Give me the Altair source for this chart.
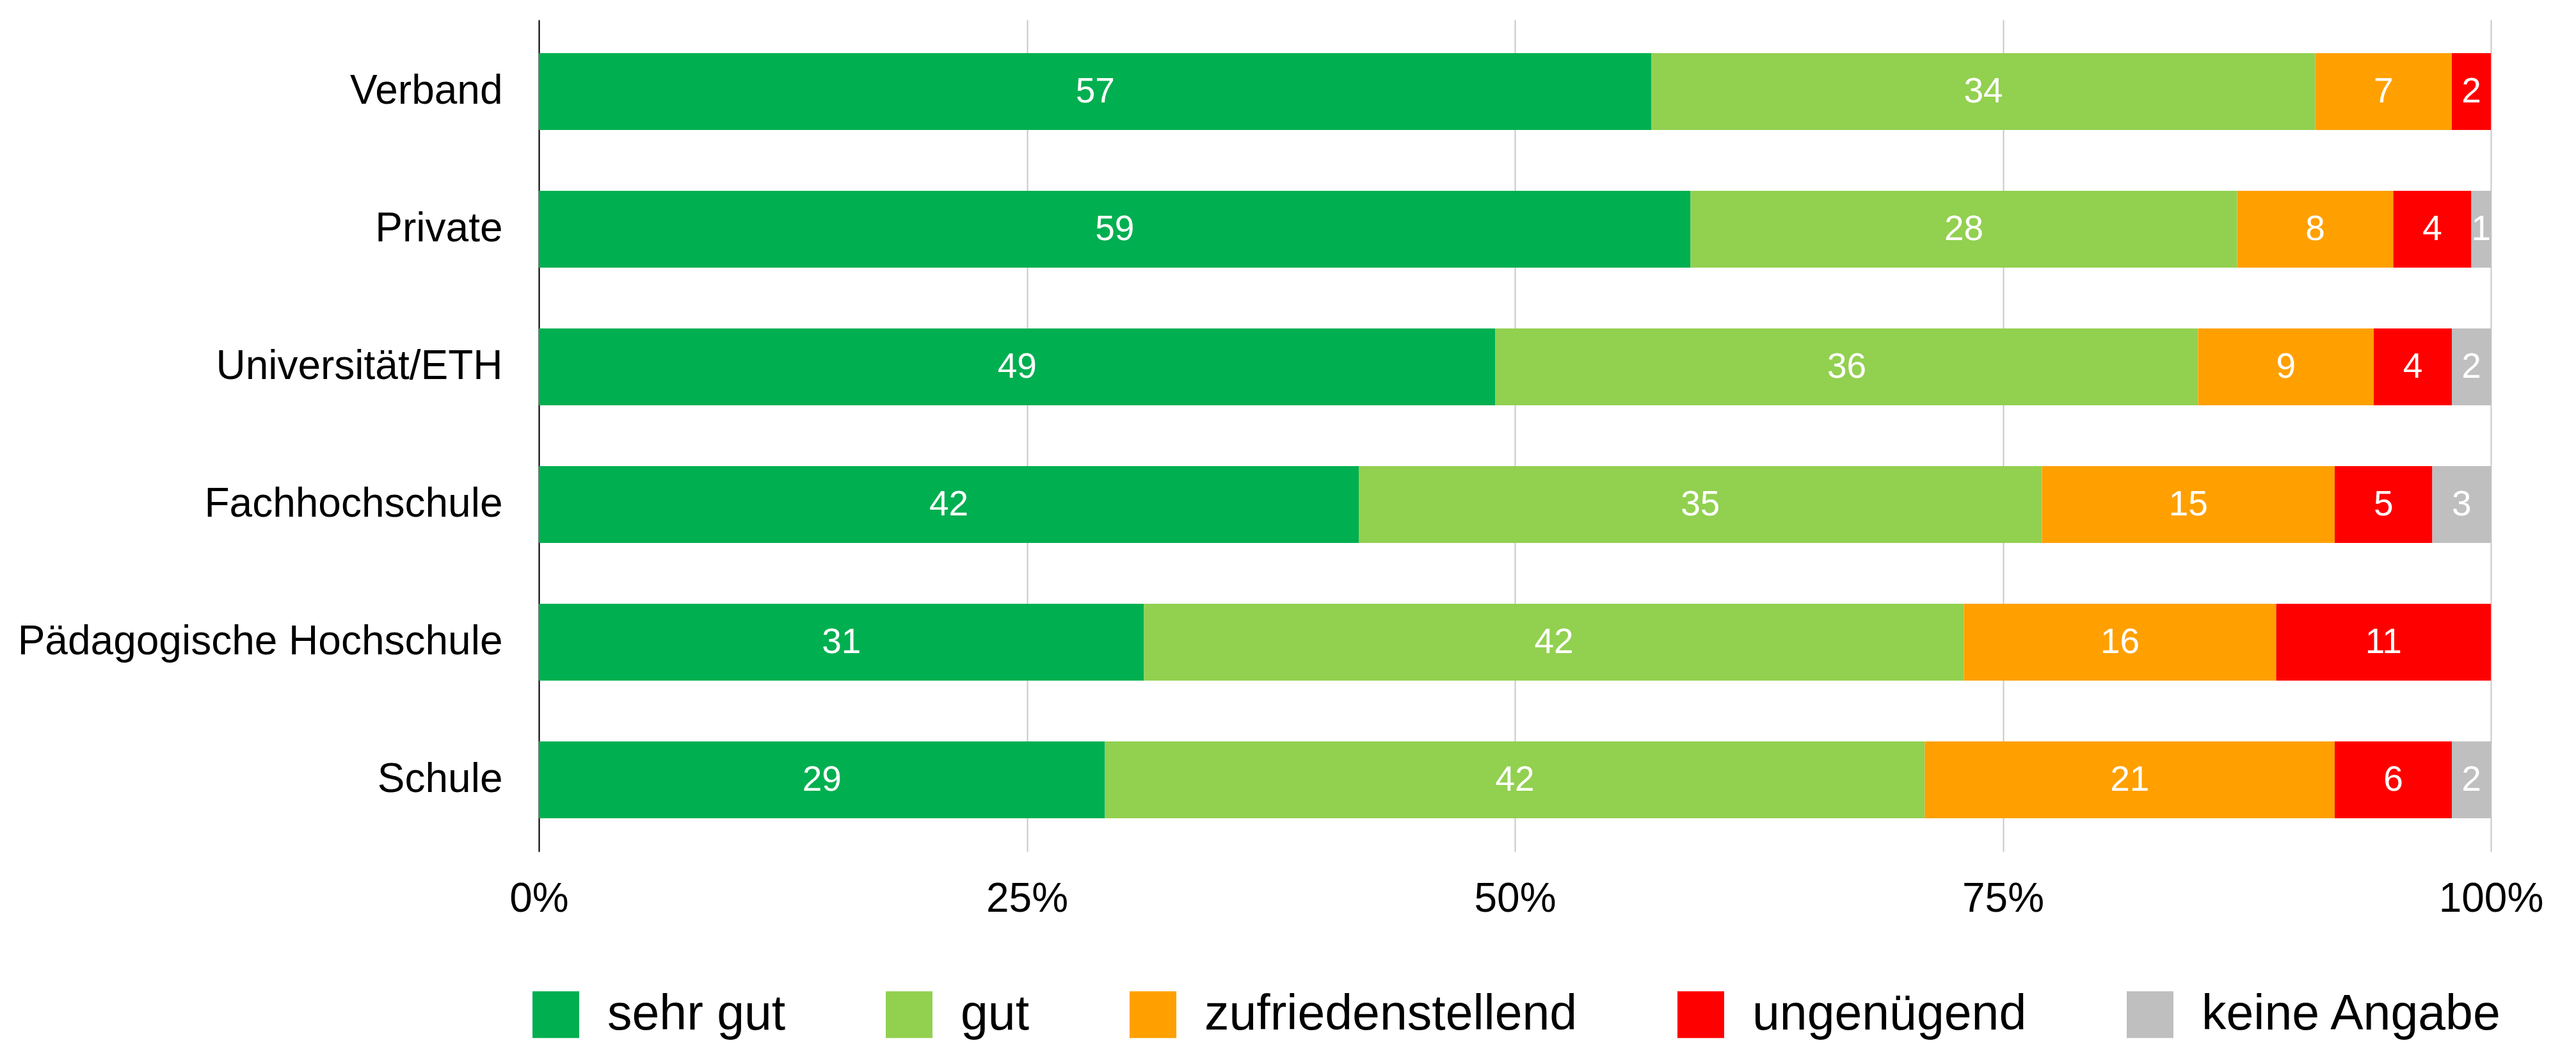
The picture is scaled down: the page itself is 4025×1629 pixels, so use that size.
import altair as alt
import pandas as pd

categories = ["Verband", "Private", "Universität/ETH", "Fachhochschule",
              "Pädagogische Hochschule", "Schule"]
ratings = ["sehr gut", "gut", "zufriedenstellend", "ungenügend", "keine Angabe"]
colors = ["#00AF50", "#92D050", "#FFA000", "#FF0000", "#BFBFBF"]

sehr_gut = [57, 59, 49, 42, 31, 29]
gut = [34, 28, 36, 35, 42, 42]
zufrieden = [7, 8, 9, 15, 16, 21]
ungenuegend = [2, 4, 4, 5, 11, 6]
keine_angabe = [0, 1, 2, 3, 0, 2]

series = [sehr_gut, gut, zufrieden, ungenuegend, keine_angabe]
rows = []
for ri, (r, vals) in enumerate(zip(ratings, series)):
    for c, v in zip(categories, vals):
        if v > 0:
            rows.append({"cat": c, "rating": r, "value": v, "ord": ri})
df = pd.DataFrame(rows)

FONT = "Liberation Sans"

base = alt.Chart(df).transform_stack(
    stack="value", groupby=["cat"], as_=["x0", "x1"],
    sort=[alt.SortField("ord", order="ascending")]
).transform_calculate(mid="(datum.x0 + datum.x1) / 2")

y_scale = alt.Scale(paddingInner=0.442, paddingOuter=0.242)
x_scale = alt.Scale(domain=[0, 100], nice=False)

y_axis = alt.Axis(labelFontSize=64, labelFont=FONT, labelColor="#000",
                  labelPadding=57, ticks=False, domain=True,
                  domainColor="#000", domainWidth=2, grid=False,
                  labelLimit=2000)
x_axis = alt.Axis(values=[0, 25, 50, 75, 100],
                  labelExpr="datum.value + '%'",
                  labelFontSize=64, labelFont=FONT, labelColor="#000",
                  labelPadding=42, labelFlush=False, ticks=False,
                  domain=False, grid=True, gridColor="#c8c8c8",
                  gridWidth=2)

bars = base.mark_bar().encode(
    y=alt.Y("cat:N", sort=categories, title=None, scale=y_scale, axis=y_axis),
    x=alt.X("x0:Q", title=None, scale=x_scale, axis=x_axis),
    x2="x1:Q",
    color=alt.Color("rating:N", sort=ratings,
                    scale=alt.Scale(domain=ratings, range=colors),
                    legend=alt.Legend(title=None, orient="none", direction="horizontal",
                                      legendX=-12, legendY=1515,
                                      symbolType="square", symbolSize=5329,
                                      symbolStrokeWidth=0, symbolOpacity=1,
                                      labelFontSize=77, labelFont=FONT,
                                      labelColor="#000", labelOffset=42,
                                      columnPadding=154, padding=0,
                                      labelLimit=2000)),
    order=alt.Order("ord:Q"),
)

labels = base.mark_text(color="white", fontSize=55, font=FONT,
                        align="center", baseline="middle").encode(
    y=alt.Y("cat:N", sort=categories, title=None, scale=y_scale, axis=y_axis),
    x=alt.X("mid:Q", title=None, scale=x_scale, axis=x_axis),
    text=alt.Text("value:Q"),
)

chart = alt.layer(bars, labels).properties(
    width=3050, height=1299,
    background="white",
    autosize=alt.AutoSizeParams(type="none"),
    padding={"left": 834, "top": 23, "right": 125, "bottom": 299},
).configure_view(strokeWidth=0, stroke="transparent")

chart.save("out.html", embed_options={"renderer": "svg", "actions": False})
